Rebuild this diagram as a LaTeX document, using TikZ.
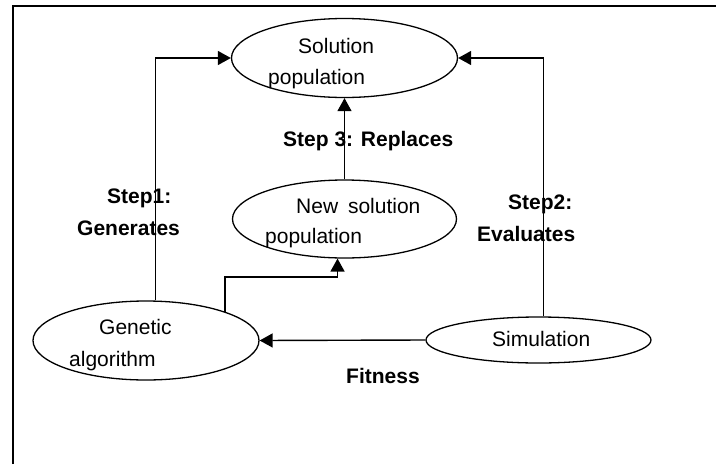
\documentclass[tikz,border=0pt]{standalone}
\usepackage{fontspec}
\setmainfont{Liberation Sans}
\usetikzlibrary{arrows.meta,shapes.geometric}
\begin{document}
\begin{tikzpicture}[x=1pt,y=-1pt,
  blob/.style={draw,ellipse,line width=1.3pt,inner sep=0pt},
  txt/.style={anchor=base west,inner sep=0pt,font=\fontsize{21}{25}\selectfont},
  btxt/.style={anchor=base west,inner sep=0pt,font=\fontsize{21}{25}\selectfont\bfseries},
  flow/.style={line width=1.4pt,-{Triangle[length=13pt,width=14pt]}},
  ]
\useasboundingbox (0,0) rectangle (716,464);
% frame edges
\draw[line width=1.8pt] (12.7,464) -- (12.7,6) -- (716,6);

% states
\node[blob,minimum width=226pt,minimum height=79pt] (sp)  at (344.5,58)  {};
\node[blob,minimum width=224pt,minimum height=78pt] (nsp) at (344.5,219) {};
\node[blob,minimum width=226pt,minimum height=79pt] (ga)  at (146,340.5) {};
\node[blob,minimum width=225pt,minimum height=46pt] (sim) at (538.5,340) {};

% texts inside the ellipses
\node[txt] (spa)  at (298,53)  {Solution};
\node[txt] (spb)  at (268,84)  {population};
\node[txt] (nspa) at (296,213) {New\hspace{4pt} solution};
\node[txt] (nspb) at (265,243) {population};
\node[txt] (gaa)  at (99,334)  {Genetic};
\node[txt] (gab)  at (69,366)  {algorithm};
\node[txt] (sima) at (492,346) {Simulation};

% connectors
\coordinate (elbow) at (225,277);
\draw[flow] (ga.77) |- (sp.west);
\draw[flow] (sim.78) |- (sp.east);
\draw[flow] (nsp.north) -- (sp.south);
\draw[flow] (ga.20) -- (ga.20 |- elbow) -| (nsp.260);
\draw[flow] (sim.west) -- (ga.east);

% step labels
\node[btxt] (s3)  at (283,146) {Step 3: Replaces};
\node[btxt] (s1a) at (107,203) {Step1:};
\node[btxt] (s1b) at (77,235)  {Generates};
\node[btxt] (s2a) at (508,209) {Step2:};
\node[btxt] (s2b) at (477,241) {Evaluates};
\node[btxt] (fit) at (346,383) {Fitness};
\end{tikzpicture}
\end{document}
